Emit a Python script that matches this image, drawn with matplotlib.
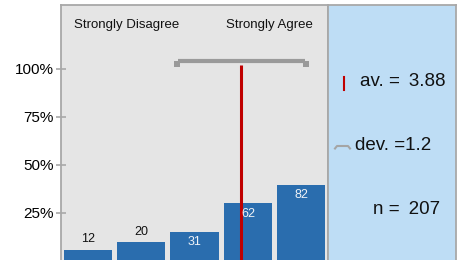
import matplotlib
matplotlib.use("Agg")
import matplotlib.pyplot as plt
import numpy as np

plt.rcParams['font.family'] = ['Liberation Sans', 'DejaVu Sans']

# Data
categories = [1, 2, 3, 4, 5]
counts = [12, 20, 31, 62, 82]
n_total = 207
mean_val = 3.88
sd_val = 1.2
ytick_vals = [25, 50, 75, 100]
ytick_labels = ["25%", "50%", "75%", "100%"]
scale_labels = ["Strongly Disagree", "Strongly Agree"]

bar_color = '#2A6DAE'
left_bg = '#E5E5E5'
right_bg = '#BEDDF5'
frame_col = '#A8A8A8'
red = '#C00000'
gray = '#9A9A9A'

W, H = 461, 260
fig = plt.figure(figsize=(W / 100, H / 100), dpi=100)

def frac(x0, y0, x1, y1):
    return [x0 / W, 1 - y1 / H, (x1 - x0) / W, (y1 - y0) / H]

ax = fig.add_axes(frac(61, 5, 328, 261))
ax.set_facecolor(left_bg)
pct = [c / n_total * 100 for c in counts]
ax.bar(categories, pct, width=0.9, color=bar_color, zorder=2)
ax.set_xlim(0.5, 5.5)
ax.set_ylim(0.0, 133.3)
ax.set_xticks([])
ax.set_yticks(ytick_vals)
ax.set_yticklabels(ytick_labels, fontsize=11)
ax.tick_params(axis='y', direction='inout', length=7, width=1.2, color=frame_col, pad=1.5)
for s in ax.spines.values():
    s.set_color(frame_col)
    s.set_linewidth(1.3)
ax.spines['bottom'].set_visible(False)

for x, p, c in zip(categories, pct, counts):
    if p < 12:
        ax.text(x, p + 2.5, str(c), ha='center', va='bottom', fontsize=9, color='#111111', zorder=4)
    else:
        ax.text(x, p - 2.2, str(c), ha='center', va='top', fontsize=9, color='#EEF2F7', zorder=4)

# mean line
ax.plot([mean_val, mean_val], [0, 102.3], color=red, lw=2.2, zorder=3, solid_capstyle='butt')
# sd bracket
lo, hi = mean_val - sd_val, mean_val + sd_val
yb = 104.2
end_off = 0.015
ax.plot([lo + end_off, hi - end_off], [yb, yb], color=gray, lw=3, zorder=3, solid_capstyle='butt')
ax.plot([lo, hi], [yb - 1.5, yb - 1.5], ls='none', marker='s', ms=3.8, mew=0,
        color=gray, zorder=3)

ax.text(0.049, 0.92, scale_labels[0], transform=ax.transAxes, ha='left', va='center', fontsize=9.5, color='#111111')
ax.text(0.944, 0.92, scale_labels[1], transform=ax.transAxes, ha='right', va='center', fontsize=9.5, color='#111111')

# right panel
ax2 = fig.add_axes(frac(328, 5, 456, 261))
ax2.set_facecolor(right_bg)
ax2.set_xlim(328, 456)
ax2.set_ylim(261, 5)
ax2.set_xticks([])
ax2.set_yticks([])
for s in ax2.spines.values():
    s.set_color(frame_col)
    s.set_linewidth(1.3)
ax2.spines['bottom'].set_visible(False)

ax2.plot([344, 344], [77, 90], color=red, lw=1.5)
ax2.plot([335, 337, 348, 350], [148.5, 146, 146, 148.5], color='#A5A5A5', lw=1.5)
ax2.text(360, 82, "av. = \u20093.88", ha='left', va='center', fontsize=13.5, color='#111111')
ax2.text(355, 145, "dev. =1.2", ha='left', va='center', fontsize=13.5, color='#111111')
ax2.text(373, 210, "n = \u2009207", ha='left', va='center', fontsize=13.5, color='#111111')

fig.savefig("out.png", dpi=100)
